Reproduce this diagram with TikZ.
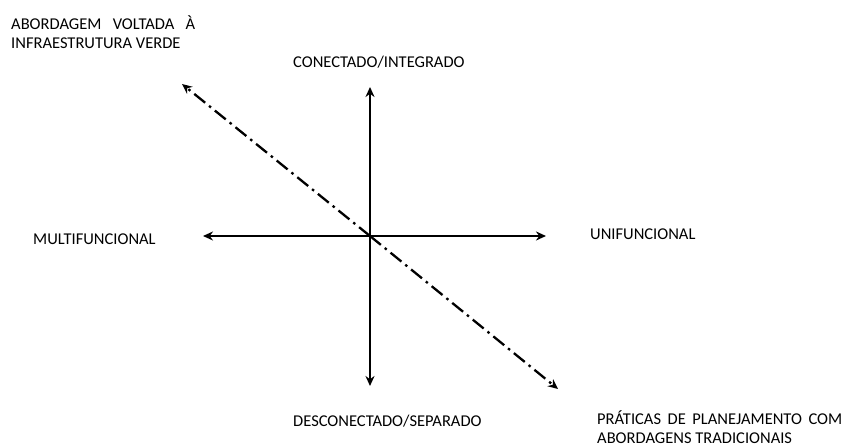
\documentclass[tikz,border=0pt]{standalone}
\usepackage{fontspec}
\setmainfont{Carlito}
\usetikzlibrary{arrows.meta}
\begin{document}
\begin{tikzpicture}
[x=1pt,y=-1pt,
 axisline/.style={line width=2.3pt,-{Stealth[length=10pt,width=9pt]}},
 trendline/.style={line width=2.3pt,dash pattern=on 14pt off 5pt on 2.5pt off 5pt,-{Stealth[length=10pt,width=9pt]}},
 lbl/.style={inner sep=0pt,font=\fontsize{16.5}{20}\selectfont}]
\useasboundingbox (0,0) rectangle (848,446);
\coordinate (o) at (370,236);
%% axes
\foreach \name/\x/\y in {up/370/87, down/370/386, left/203/236, right/546/236} {
  \coordinate (\name) at (\x,\y);
  \draw[axisline] (o) -- (\name);
}
%% diagonal
\coordinate (nw) at (182,84);
\coordinate (se) at (558,389);
\draw[trendline] (o) -- (nw);
\draw[trendline] (o) -- (se);
%% labels
\node[lbl,anchor=base west] (verde) at (11,30)
  {\makebox[184pt][s]{ABORDAGEM VOLTADA À}};
\node[lbl,anchor=base west] (verde2) at (11,49) {INFRAESTRUTURA VERDE};
\node[lbl,anchor=base west] (conect) at (293,68) {CONECTADO/INTEGRADO};
\node[lbl,anchor=base west] (multi) at (33,245) {MULTIFUNCIONAL};
\node[lbl,anchor=base west] (uni) at (590,240) {UNIFUNCIONAL};
\node[lbl,anchor=base west] (descon) at (293,426) {DESCONECTADO/SEPARADO};
\node[lbl,anchor=base west] (prat) at (597,424)
  {\makebox[245pt][s]{PRÁTICAS DE PLANEJAMENTO COM}};
\node[lbl,anchor=base west] (prat2) at (597,443) {ABORDAGENS TRADICIONAIS};
\end{tikzpicture}
\end{document}
